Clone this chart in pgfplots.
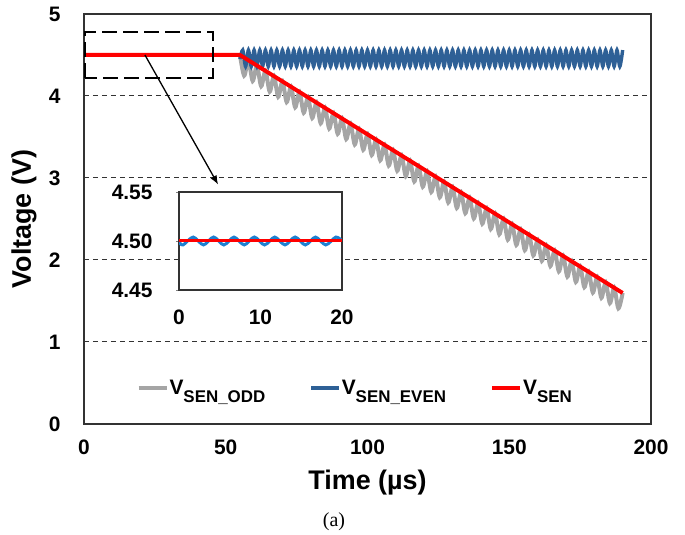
\documentclass[border=0pt]{standalone}
\usepackage{pgfplots}
\pgfplotsset{compat=1.18}
\usepackage{fontspec}
\setmainfont{Liberation Sans}
\newfontfamily\serifcap{Liberation Serif}
\usetikzlibrary{calc,arrows.meta}

\definecolor{sengray}{HTML}{A5A5A5}
\definecolor{senblue}{HTML}{2E6096}
\definecolor{inblue}{HTML}{1E80D0}
\definecolor{senred}{HTML}{FF0000}

\newcommand{\tickfont}{\fontsize{21}{21}\selectfont\bfseries}
\newcommand{\lab}[2]{V\raisebox{-8bp}{\fontsize{17}{17}\selectfont #1}}

\begin{document}
\begin{tikzpicture}
\begin{axis}[
    name=main,
    scale only axis,
    width=567bp, height=410bp,
    xmin=0, xmax=200,
    ymin=0, ymax=5,
    xtick={0,50,100,150,200},
    ytick={0,1,2,3,4,5},
    major tick length=0pt,
    ymajorgrids=true,
    grid style={black!80, line width=1bp, dash pattern=on 5bp off 4bp},
    axis line style={black!80, line width=1.2bp},
    /pgf/number format/assume math mode=true,
    ticklabel style={font=\tickfont},
    xticklabel style={yshift=-12bp},
    yticklabel style={xshift=-20bp},
    xlabel={Time (µs)},
    ylabel={Voltage (V)},
    label style={font=\fontsize{27}{27}\selectfont\bfseries},
    xlabel style={at={(axis description cs:0.5,-0.144)}, anchor=center},
    ylabel style={at={(axis description cs:-0.106,0.5)}, anchor=center},
    legend columns=3,
    legend style={at={(rel axis cs:0.087,0.088)}, anchor=west, draw=none, fill=none,
        font=\fontsize{21}{21}\selectfont\bfseries,
        nodes={inner xsep=1bp},
        /tikz/every even column/.append style={column sep=43bp}},
    legend image code/.code={\draw[#1] (0bp,0bp) -- (28bp,0bp);},
]

% V_SEN_ODD
\addplot[sengray, line width=4bp, smooth] coordinates {
(55,4.500)(56.5,4.248)(58,4.436)(59.5,4.183)(61,4.371)(62.5,4.119)(64,4.307)(65.5,4.054)
(67,4.242)(68.5,3.990)(70,4.178)(71.5,3.925)(73,4.113)(74.5,3.861)(76,4.049)(77.5,3.796)
(79,3.984)(80.5,3.732)(82,3.920)(83.5,3.667)(85,3.855)(86.5,3.603)(88,3.791)(89.5,3.538)
(91,3.726)(92.5,3.474)(94,3.662)(95.5,3.409)(97,3.597)(98.5,3.345)(100,3.533)(101.5,3.280)
(103,3.468)(104.5,3.216)(106,3.404)(107.5,3.151)(109,3.339)(110.5,3.087)(112,3.275)(113.5,3.022)
(115,3.210)(116.5,2.958)(118,3.146)(119.5,2.893)(121,3.081)(122.5,2.829)(124,3.017)(125.5,2.764)
(127,2.952)(128.5,2.700)(130,2.888)(131.5,2.635)(133,2.823)(134.5,2.571)(136,2.759)(137.5,2.506)
(139,2.694)(140.5,2.442)(142,2.630)(143.5,2.377)(145,2.565)(146.5,2.313)(148,2.501)(149.5,2.248)
(151,2.436)(152.5,2.184)(154,2.372)(155.5,2.119)(157,2.307)(158.5,2.055)(160,2.243)(161.5,1.990)
(163,2.178)(164.5,1.926)(166,2.114)(167.5,1.861)(169,2.049)(170.5,1.797)(172,1.985)(173.5,1.732)
(175,1.920)(176.5,1.668)(178,1.856)(179.5,1.603)(181,1.791)(182.5,1.539)(184,1.727)(185.5,1.474)
(187,1.662)(188.5,1.410)(190,1.598)
};
\addlegendentry{\lab{SEN\_ODD}{}}

% V_SEN_EVEN
\addplot[senblue, line width=3.4bp, smooth] coordinates {
(55,4.45)(56,4.56)(57,4.36)(58,4.56)(59,4.36)(60,4.56)(61,4.36)(62,4.56)(63,4.36)(64,4.56)
(65,4.36)(66,4.56)(67,4.36)(68,4.56)(69,4.36)(70,4.56)(71,4.36)(72,4.56)(73,4.36)(74,4.56)
(75,4.36)(76,4.56)(77,4.36)(78,4.56)(79,4.36)(80,4.56)(81,4.36)(82,4.56)(83,4.36)(84,4.56)
(85,4.36)(86,4.56)(87,4.36)(88,4.56)(89,4.36)(90,4.56)(91,4.36)(92,4.56)(93,4.36)(94,4.56)
(95,4.36)(96,4.56)(97,4.36)(98,4.56)(99,4.36)(100,4.56)(101,4.36)(102,4.56)(103,4.36)(104,4.56)
(105,4.36)(106,4.56)(107,4.36)(108,4.56)(109,4.36)(110,4.56)(111,4.36)(112,4.56)(113,4.36)(114,4.56)
(115,4.36)(116,4.56)(117,4.36)(118,4.56)(119,4.36)(120,4.56)(121,4.36)(122,4.56)(123,4.36)(124,4.56)
(125,4.36)(126,4.56)(127,4.36)(128,4.56)(129,4.36)(130,4.56)(131,4.36)(132,4.56)(133,4.36)(134,4.56)
(135,4.36)(136,4.56)(137,4.36)(138,4.56)(139,4.36)(140,4.56)(141,4.36)(142,4.56)(143,4.36)(144,4.56)
(145,4.36)(146,4.56)(147,4.36)(148,4.56)(149,4.36)(150,4.56)(151,4.36)(152,4.56)(153,4.36)(154,4.56)
(155,4.36)(156,4.56)(157,4.36)(158,4.56)(159,4.36)(160,4.56)(161,4.36)(162,4.56)(163,4.36)(164,4.56)
(165,4.36)(166,4.56)(167,4.36)(168,4.56)(169,4.36)(170,4.56)(171,4.36)(172,4.56)(173,4.36)(174,4.56)
(175,4.36)(176,4.56)(177,4.36)(178,4.56)(179,4.36)(180,4.56)(181,4.36)(182,4.56)(183,4.36)(184,4.56)
(185,4.36)(186,4.56)(187,4.36)(188,4.56)(189,4.36)(190,4.56)
};
\addlegendentry{\lab{SEN\_EVEN}{}}

% V_SEN
\addplot[senred, line width=4bp] coordinates {(0,4.5)(55,4.5)(190,1.5975)};
\addlegendentry{\lab{SEN}{}}

% zoom box and arrow
\draw[black, line width=2bp, dash pattern=on 15bp off 6bp]
    (axis cs:0.4,4.22) rectangle (axis cs:45.5,4.78);
\draw[black, line width=1.3bp, -{Latex[length=9bp,width=7bp]}]
    (axis cs:21.5,4.5) -- (axis cs:47.3,2.92);
\end{axis}

% inset
\begin{axis}[
    at={($(main.south west)+(95bp,134bp)$)},
    anchor=south west,
    scale only axis,
    width=163bp, height=98bp,
    xmin=0, xmax=20,
    ymin=4.45, ymax=4.55,
    xtick={0,10,20},
    ytick={4.45,4.5,4.55},
    ytick pos=left,
    xtick style={draw=none},
    tick align=outside,
    major tick length=3bp,
    axis background/.style={fill=white},
    axis line style={black!80, line width=1.2bp},
    /pgf/number format/assume math mode=true,
    ticklabel style={font=\tickfont},
    xticklabel style={yshift=-13bp},
    yticklabel style={xshift=-20bp, /pgf/number format/fixed,
        /pgf/number format/fixed zerofill, /pgf/number format/precision=2},
]
\addplot[inblue, line width=3bp, smooth] coordinates {
(0,4.499)(0.5,4.496)(1.75,4.504)(3.0,4.496)(4.25,4.504)(5.5,4.496)(6.75,4.504)(8.0,4.496)
(9.25,4.504)(10.5,4.496)(11.75,4.504)(13.0,4.496)(14.25,4.504)(15.5,4.496)(16.75,4.504)
(18.0,4.496)(19.25,4.504)(20,4.5)
};
\addplot[senred, line width=3bp] coordinates {(0,4.5)(20,4.5)};
\end{axis}

\node[font=\serifcap\fontsize{20}{20}\selectfont, anchor=center]
    at ($(main.south west)+(250bp,-98bp)$) {(a)};

\path[use as bounding box] ($(main.south west)+(-84bp,-109bp)$)
    rectangle ($(main.north east)+(34bp,14bp)$);
\end{tikzpicture}
\end{document}
